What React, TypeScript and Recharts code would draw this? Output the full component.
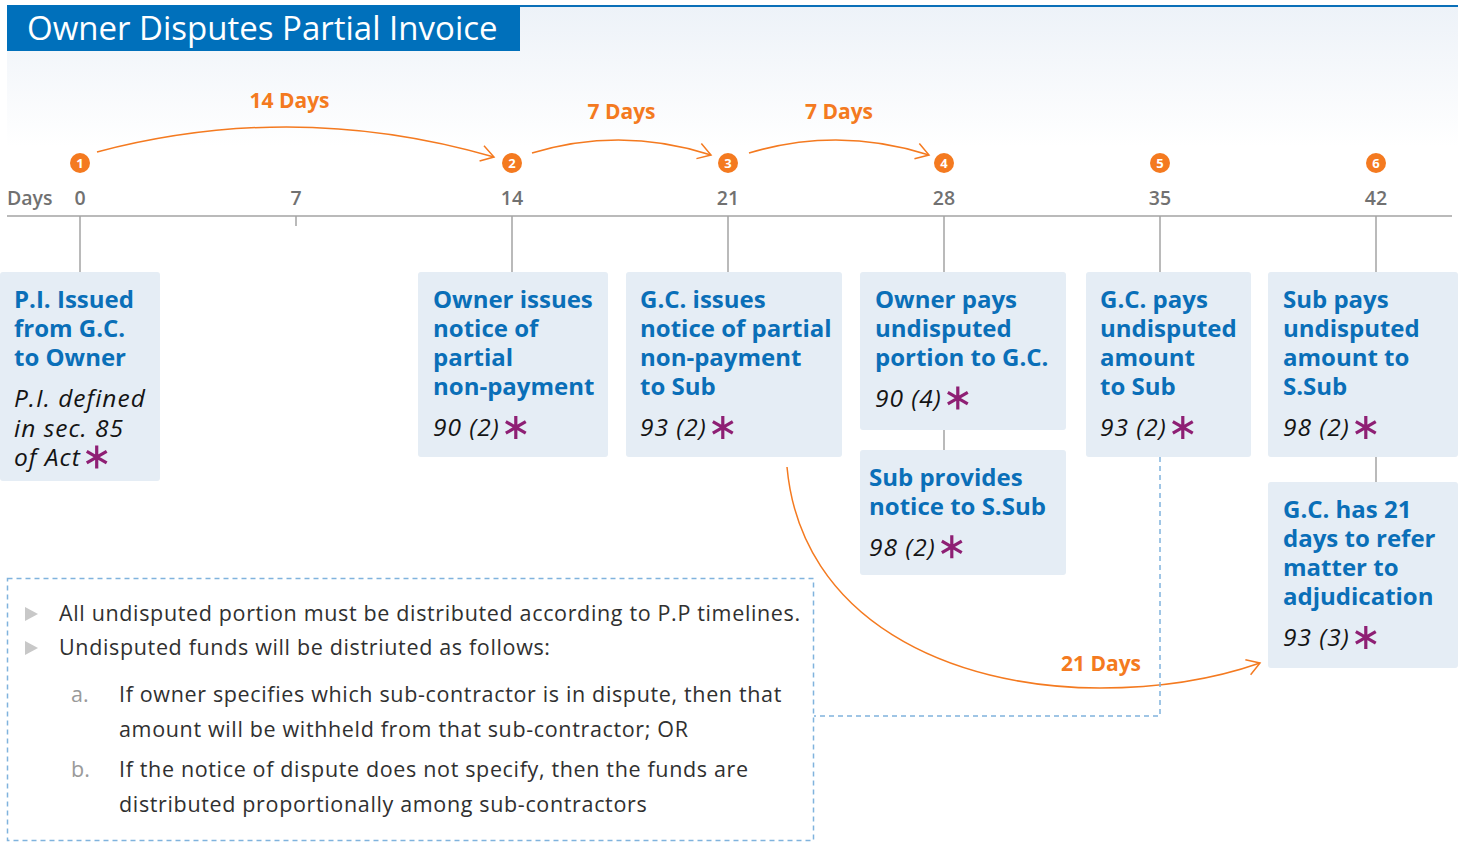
import React from 'react';
import { ComposedChart, XAxis, YAxis, Scatter, ReferenceLine, ReferenceDot, ReferenceArea } from 'recharts';

// ---------- data ----------
const chartTitle = 'Owner Disputes Partial Invoice';
const axisName = 'Days';
const dayTicks = [0, 7, 14, 21, 28, 35, 42];
const stepDays = [0, 14, 21, 28, 35, 42];
const stepLabels = ['1', '2', '3', '4', '5', '6'];

const spanFrom = [0, 14, 21, 21];
const spanTo = [14, 21, 28, 42];
const spanLabels = ['14 Days', '7 Days', '7 Days', '21 Days'];

const cardDays = [0, 14, 21, 28, 28, 35, 42, 42];
const cardTitles = [
  ['P.I. Issued', 'from G.C.', 'to Owner'],
  ['Owner issues', 'notice of', 'partial', 'non-payment'],
  ['G.C. issues', 'notice of partial', 'non-payment', 'to Sub'],
  ['Owner pays', 'undisputed', 'portion to G.C.'],
  ['Sub provides', 'notice to S.Sub'],
  ['G.C. pays', 'undisputed', 'amount', 'to Sub'],
  ['Sub pays', 'undisputed', 'amount to', 'S.Sub'],
  ['G.C. has 21', 'days to refer', 'matter to', 'adjudication'],
];
const cardRefs = [
  ['P.I. defined', 'in sec. 85', 'of Act'],
  ['90 (2)'],
  ['93 (2)'],
  ['90 (4)'],
  ['98 (2)'],
  ['93 (2)'],
  ['98 (2)'],
  ['93 (3)'],
];

const noteBullets = [
  'All undisputed portion must be distributed according to P.P timelines.',
  'Undisputed funds will be distriuted as follows:',
];
const noteMarks = ['a.', 'b.'];
const noteItems = [
  ['If owner specifies which sub-contractor is in dispute, then that', 'amount will be withheld from that sub-contractor; OR'],
  ['If the notice of dispute does not specify, then the funds are', 'distributed proportionally among sub-contractors'],
];

// ---------- layout / style ----------
const W = 1460;
const H = 842;
const AXIS_Y = 216;
const AXIS_H = 30;
const X0_PX = 80;
const PX_PER_DAY = (1376 - 80) / 42;
const PLOT_L = 7;
const PLOT_R = 1452;
const X_DOMAIN: [number, number] = [(PLOT_L - X0_PX) / PX_PER_DAY, (PLOT_R - X0_PX) / PX_PER_DAY];
const BADGE_Y = 163;
const LEAD_Y = 716;
const NOTE_BOX = { x: 7, y: 578, w: 807, h: 263 };

const FONT = "'Open Sans', Lato, sans-serif";
const ORANGE = '#f47a20';
const BLUE = '#0a6fb8';
const CARD_FILL = '#e5edf5';
const GREY_LINE = '#a3a3a3';
const PURPLE = '#8e1f74';
const DASH_BLUE = '#80b3dd';

const TITLE_SIZE = 24;
const REF_SIZE = 24.5;
const REF_SPACING = 1;
const NOTE_SIZE = 21.5;
const NOTE_SPACING = 0.65;

const CARD_LAYOUT = [
  { dx: -80, w: 160, h: 209, pad: 14, lead: false },
  { dx: -94, w: 190, h: 185, pad: 15, lead: false },
  { dx: -102, w: 216, h: 185, pad: 14, lead: false },
  { dx: -84, w: 206, h: 158, pad: 15, lead: false },
  { dx: -84, w: 206, h: 125, pad: 9, lead: false },
  { dx: -74, w: 165, h: 185, pad: 14, lead: true },
  { dx: -108, w: 190, h: 185, pad: 15, lead: false },
  { dx: -108, w: 190, h: 186, pad: 15, lead: false },
];
const CARD_TOPS = [272, 272, 272, 272, 450, 272, 272, 482];

const SPAN_LAYOUT = [
  { sdx: 17, edx: -18, sy: 152, ey: 157, peak: 127, labelY: 108, labelDx: -6 },
  { sdx: 20, edx: -17, sy: 153, ey: 155, peak: 140, labelY: 119, labelDx: 0 },
  { sdx: 21, edx: -15, sy: 153, ey: 155, peak: 140, labelY: 119, labelDx: 0 },
  { sdx: 59, edx: -116, sy: 467, ey: 663, peak: 688, labelY: 671, labelDx: 0 },
];

const cardData = cardDays.map((d, i) => ({ day: d, top: CARD_TOPS[i], idx: i }));
const axisData = dayTicks.map((d) => ({ day: d }));

let measureCtx: CanvasRenderingContext2D | null = null;
function measureText(text: string, font: string, spacing: number) {
  if (typeof document === 'undefined') return text.length * 12;
  if (!measureCtx) measureCtx = document.createElement('canvas').getContext('2d');
  if (!measureCtx) return text.length * 12;
  measureCtx.font = font;
  return measureCtx.measureText(text).width + spacing * text.length;
}

function arrowHead(ex: number, ey: number, cx: number, cy: number) {
  const dx = ex - cx;
  const dy = ey - cy;
  const len = Math.hypot(dx, dy) || 1;
  const ux = dx / len;
  const uy = dy / len;
  const L = 15;
  const a = (32 * Math.PI) / 180;
  const r1x = ux * Math.cos(a) - uy * Math.sin(a);
  const r1y = ux * Math.sin(a) + uy * Math.cos(a);
  const r2x = ux * Math.cos(-a) - uy * Math.sin(-a);
  const r2y = ux * Math.sin(-a) + uy * Math.cos(-a);
  return `M${ex - L * r1x},${ey - L * r1y} L${ex},${ey} L${ex - L * r2x},${ey - L * r2y}`;
}

function makeArcShape(i: number) {
  return (props: any) => {
    const { x, width } = props;
    const Lt = SPAN_LAYOUT[i];
    const sx = x + Lt.sdx;
    const ex = x + width + Lt.edx;
    let d = '';
    let head = '';
    let lx = 0;
    if (i < 3) {
      const cx = (sx + ex) / 2;
      const cy = 2 * Lt.peak - (Lt.sy + Lt.ey) / 2;
      d = `M${sx},${Lt.sy} Q${cx},${cy} ${ex},${Lt.ey}`;
      head = arrowHead(ex, Lt.ey, cx, cy);
      lx = cx + Lt.labelDx;
    } else {
      const bx = ex - 160;
      const c4x = ex - 40;
      const c4y = Lt.ey + 14;
      d = `M${sx},${Lt.sy} C${sx + 14},620 ${bx - 150},${Lt.peak} ${bx},${Lt.peak} C${bx + 70},${Lt.peak} ${c4x},${c4y} ${ex},${Lt.ey}`;
      head = arrowHead(ex, Lt.ey, c4x, c4y);
      lx = bx + 1;
    }
    return (
      <g>
        <path d={d} fill="none" stroke={ORANGE} strokeWidth={1.5} />
        <path d={head} fill="none" stroke={ORANGE} strokeWidth={1.5} />
        <text x={lx} y={Lt.labelY} textAnchor="middle" fill={ORANGE} fontSize={21} fontWeight={700} fontFamily={FONT}>
          {spanLabels[i]}
        </text>
      </g>
    );
  };
}

function makeBadgeShape(i: number) {
  return (props: any) => {
    const { cx, cy } = props;
    return (
      <g>
        <circle cx={cx} cy={cy} r={10} fill={ORANGE} />
        <text x={cx} y={cy + 4.5} textAnchor="middle" fill="#fff" fontSize={13} fontWeight={700} fontFamily={FONT}>
          {stepLabels[i]}
        </text>
      </g>
    );
  };
}

function Asterisk({ x, y }: { x: number; y: number }) {
  const r = 11.5;
  const c = Math.cos(Math.PI / 6) * r;
  const s = Math.sin(Math.PI / 6) * r;
  return (
    <path
      d={`M${x},${y - r} L${x},${y + r} M${x - c},${y - s} L${x + c},${y + s} M${x - c},${y + s} L${x + c},${y - s}`}
      stroke={PURPLE}
      strokeWidth={3.2}
      strokeLinecap="butt"
      fill="none"
    />
  );
}

const CardShape = (props: any) => {
  const { cx, cy, payload } = props;
  if (cx == null || cy == null || !payload) return null;
  const i = payload.idx;
  const L = CARD_LAYOUT[i];
  const left = cx + L.dx;
  const top = cy;
  const titles = cardTitles[i];
  const refs = cardRefs[i];
  const tx = left + L.pad;
  const titleBase = top + 35.5;
  const refBase = titleBase + (titles.length - 1) * 29.3 + 41;
  const lastRef = refs[refs.length - 1];
  const lastBase = refBase + (refs.length - 1) * 29.5;
  const lastW = measureText(lastRef, `italic 400 ${REF_SIZE}px 'Open Sans'`, REF_SPACING);
  return (
    <g>
      {L.lead && (
        <path
          d={`M${cx},${top + L.h} V${LEAD_Y} H${NOTE_BOX.x + NOTE_BOX.w}`}
          fill="none"
          stroke={DASH_BLUE}
          strokeWidth={1.5}
          strokeDasharray="5 4"
        />
      )}
      <rect x={left} y={top} width={L.w} height={L.h} rx={3} fill={CARD_FILL} />
      <text fill={BLUE} fontSize={TITLE_SIZE} fontWeight={700} fontFamily={FONT}>
        {titles.map((t, j) => (
          <tspan key={j} x={tx} y={titleBase + j * 29.3}>
            {t}
          </tspan>
        ))}
      </text>
      <text fill="#141414" fontSize={REF_SIZE} fontStyle="italic" fontFamily={FONT} letterSpacing={REF_SPACING}>
        {refs.map((r, k) => (
          <tspan key={k} x={tx} y={refBase + k * 29.5}>
            {r}
          </tspan>
        ))}
      </text>
      <Asterisk x={tx + lastW + 5 + 11} y={lastBase - 9} />
    </g>
  );
};

const DayTick = (props: any) => {
  const { x, payload } = props;
  return (
    <text x={x} y={205} textAnchor="middle" fill="#717171" fontSize={19.5} fontWeight={600} fontFamily={FONT}>
      {payload.value}
    </text>
  );
};

const AxisNameLabel = (props: any) => {
  const vx = props?.viewBox?.x ?? PLOT_L;
  return (
    <text x={vx} y={205} fill="#717171" fontSize={19.5} fontWeight={600} fontFamily={FONT}>
      {axisName}
    </text>
  );
};

export default function App() {
  const connectors = cardDays.map((d, i) => {
    const prevSame = i > 0 && cardDays[i - 1] === d;
    const fromY = prevSame ? CARD_TOPS[i - 1] + CARD_LAYOUT[i - 1].h : AXIS_Y;
    return { day: d, y1: fromY, y2: CARD_TOPS[i] };
  });
  const plainTicks = dayTicks.filter((d) => !stepDays.includes(d));

  return (
    <div style={{ position: 'absolute', left: 0, top: 0, width: W, height: H, background: '#fff', overflow: 'hidden' }}>
      <div
        style={{
          position: 'absolute',
          left: 7,
          top: 7,
          width: 1451,
          height: 140,
          background: 'linear-gradient(#edf2f8, #ffffff)',
        }}
      />
      <div style={{ position: 'absolute', left: 520, top: 5, width: 938, height: 2, background: '#0a6fb8' }} />
      <div
        style={{
          position: 'absolute',
          left: 7,
          top: 5,
          width: 513,
          height: 46,
          background: '#0070bb',
          color: '#fff',
          fontFamily: FONT,
          fontSize: 33,
          lineHeight: '46px',
          paddingLeft: 20,
          boxSizing: 'border-box',
          whiteSpace: 'nowrap',
        }}
      >
        {chartTitle}
      </div>

      <div style={{ position: 'absolute', left: 0, top: 0 }}>
        <ComposedChart
          width={W}
          height={H}
          data={axisData}
          margin={{ top: AXIS_Y - AXIS_H, right: W - PLOT_R, bottom: 0, left: PLOT_L }}
          style={{ fontFamily: FONT }}
        >
          <XAxis
            dataKey="day"
            type="number"
            orientation="top"
            height={AXIS_H}
            domain={X_DOMAIN}
            ticks={dayTicks}
            interval={0}
            tickLine={false}
            axisLine={{ stroke: GREY_LINE, strokeWidth: 1.5 }}
            tick={<DayTick />}
            label={{ value: axisName, content: <AxisNameLabel /> }}
          />
          <YAxis type="number" hide width={0} domain={[AXIS_Y, H]} reversed />

          {plainTicks.map((d) => (
            <ReferenceLine
              key={'t' + d}
              segment={[{ x: d, y: AXIS_Y }, { x: d, y: AXIS_Y + 10 }]}
              stroke={GREY_LINE}
              strokeWidth={1.5}
            />
          ))}
          {connectors.map((c, i) => (
            <ReferenceLine
              key={'c' + i}
              segment={[{ x: c.day, y: c.y1 }, { x: c.day, y: c.y2 }]}
              stroke={GREY_LINE}
              strokeWidth={1.5}
            />
          ))}
          {spanFrom.map((f, i) => (
            <ReferenceArea
              key={'s' + i}
              x1={f}
              x2={spanTo[i]}
              fill="none"
              ifOverflow="visible"
              shape={makeArcShape(i)}
            />
          ))}
          {stepDays.map((d, i) => (
            <ReferenceDot
              key={'b' + i}
              x={d}
              y={BADGE_Y}
              r={10}
              ifOverflow="visible"
              shape={makeBadgeShape(i)}
            />
          ))}
          <Scatter
            data={cardData}
            dataKey="top"
            isAnimationActive={false}
            shape={<CardShape />}
            legendType="none"
          />
        </ComposedChart>
      </div>

      <svg width={W} height={H} style={{ position: 'absolute', left: 0, top: 0, pointerEvents: 'none' }}>
        <rect
          x={NOTE_BOX.x + 0.5}
          y={NOTE_BOX.y + 0.5}
          width={NOTE_BOX.w - 1}
          height={NOTE_BOX.h - 1}
          fill="none"
          stroke={DASH_BLUE}
          strokeWidth={1.5}
          strokeDasharray="5 4"
        />
        {noteBullets.map((t, i) => {
          const cy = 614 + i * 34;
          return (
            <g key={'nb' + i}>
              <path d={`M25,${cy - 7} L38,${cy} L25,${cy + 7} Z`} fill="#c8c8c8" />
              <text x={59} y={cy + 7} fill="#303030" fontSize={NOTE_SIZE} fontFamily={FONT} letterSpacing={NOTE_SPACING}>
                {t}
              </text>
            </g>
          );
        })}
        {noteItems.map((lines, i) => {
          const base = 702 + i * 75;
          return (
            <g key={'ni' + i}>
              <text x={71} y={base} fill="#9a9a9a" fontSize={NOTE_SIZE} fontFamily={FONT}>
                {noteMarks[i]}
              </text>
              <text fill="#303030" fontSize={NOTE_SIZE} fontFamily={FONT} letterSpacing={NOTE_SPACING}>
                {lines.map((l, k) => (
                  <tspan key={k} x={119} y={base + k * 35}>
                    {l}
                  </tspan>
                ))}
              </text>
            </g>
          );
        })}
      </svg>
    </div>
  );
}
